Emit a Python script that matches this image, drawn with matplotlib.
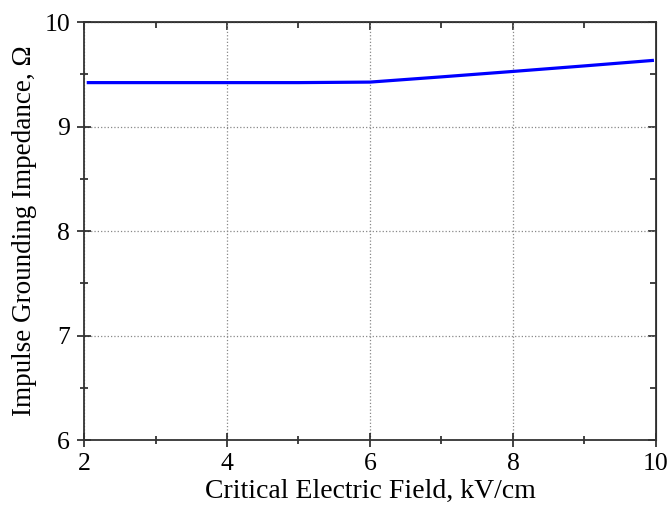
import matplotlib
matplotlib.use("Agg")
import matplotlib.pyplot as plt
from matplotlib.ticker import MultipleLocator

field = [2.06, 3, 4, 5, 6, 7, 8, 9, 9.95]
impedance = [9.42, 9.42, 9.42, 9.42, 9.425, 9.475, 9.527, 9.58, 9.632]
xticks = [2, 4, 6, 8, 10]
yticks = [6, 7, 8, 9, 10]

plt.rcParams['font.family'] = ['Liberation Serif', 'DejaVu Serif']

fig = plt.figure(figsize=(6.7, 5.07), dpi=100)
ax = fig.add_axes([0.1254, 0.1321, 0.8536, 0.8245])
ax.plot(field, impedance, color='#0000ff', lw=2.3)
ax.set_xlim(2, 10)
ax.set_ylim(6, 10)
ax.set_xticks(xticks)
ax.set_yticks(yticks)
ax.xaxis.set_minor_locator(MultipleLocator(1))
ax.yaxis.set_minor_locator(MultipleLocator(0.5))
ax.tick_params(which='both', direction='inout', labelsize=18.5, width=1.2,
               colors='#222222', labelcolor='black')
ax.tick_params(which='major', length=10)
ax.tick_params(which='minor', length=6)
ax.tick_params(axis='x', pad=4)
ax.tick_params(axis='y', pad=5)

top = ax.secondary_xaxis('top')
top.set_xticks(xticks)
top.set_xticklabels([])
top.xaxis.set_minor_locator(MultipleLocator(1))
top.tick_params(which='both', direction='in', width=1.2, colors='#222222')
top.tick_params(which='major', length=6)
top.tick_params(which='minor', length=4)
right = ax.secondary_yaxis('right')
right.set_yticks(yticks)
right.set_yticklabels([])
right.yaxis.set_minor_locator(MultipleLocator(0.5))
right.tick_params(which='both', direction='in', width=1.2, colors='#222222')
right.tick_params(which='major', length=6)
right.tick_params(which='minor', length=4)

ax.grid(True, which='major', linestyle=':', color='#888888', lw=0.9)
for s in ax.spines.values():
    s.set_linewidth(1.3)
    s.set_color('#333333')
ax.set_xlabel('Critical Electric Field, kV/cm', fontsize=20, labelpad=3)
ax.set_ylabel('Impulse Grounding Impedance, Ω', fontsize=19.5, labelpad=5)
fig.savefig('out.png', dpi=100)
